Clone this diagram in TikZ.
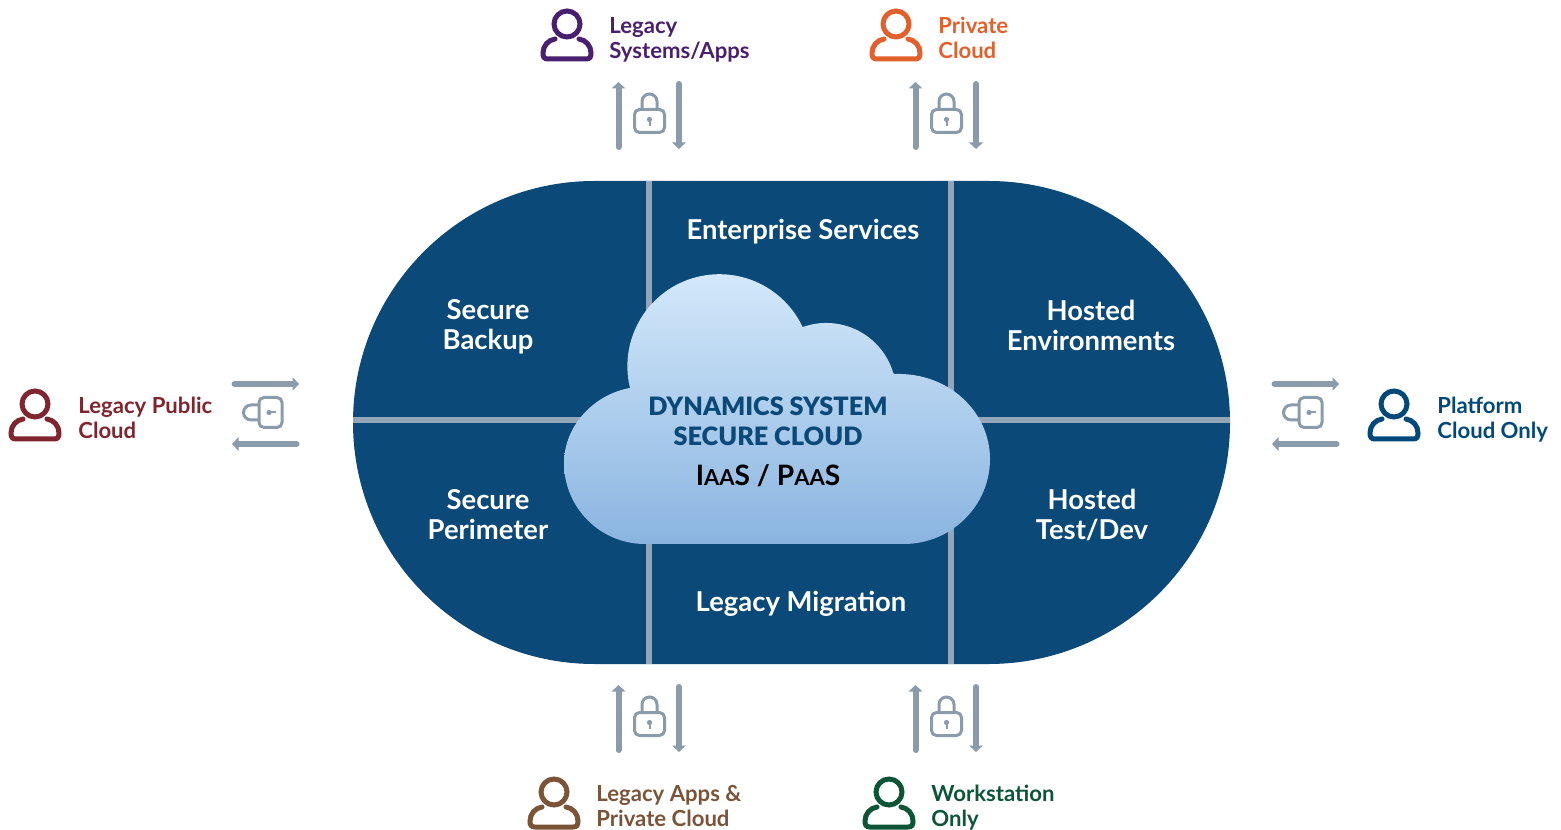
\documentclass[tikz,border=0pt]{standalone}
\usepackage{fontspec}
\setmainfont{Lato}
\newfontfamily\heavyfont{Lato Black}
\usetikzlibrary{arrows.meta}

\definecolor{pillblue}{HTML}{0A4978}
\definecolor{divider}{HTML}{93A6B8}
\definecolor{flowgrey}{HTML}{8A9BAB}
\definecolor{cloudtop}{HTML}{D5EAFB}
\definecolor{cloudbottom}{HTML}{8AB4E0}
\definecolor{legacypurple}{HTML}{4A1F6F}
\definecolor{privateorange}{HTML}{E2602C}
\definecolor{publicred}{HTML}{80252E}
\definecolor{platformblue}{HTML}{00497A}
\definecolor{appsbrown}{HTML}{7B5438}
\definecolor{stationgreen}{HTML}{0D5537}

\tikzset{
  flow/.style={draw=flowgrey,line width=0.12cm,line cap=round,-{Triangle[width=0.27cm,length=0.13cm]}},
  region/.style={text=white,align=center,inner sep=0pt,font=\bfseries\fontsize{15.6}{17}\selectfont},
  user/.style={align=left,anchor=west,inner sep=0pt,font=\bfseries\fontsize{12.6}{14.2}\selectfont},
  person/.pic={
    \draw[line width=0.1cm] (0,0) circle (13);
    \draw[line width=0.1cm,line cap=round]
      (-12,-15) .. controls (-19,-16) and (-24,-22) .. (-24,-29)
      .. controls (-24,-33) and (-23,-35) .. (-19,-35) -- (19,-35)
      .. controls (23,-35) and (24,-33) .. (24,-29)
      .. controls (24,-22) and (19,-16) .. (12,-15);
  },
  lockicon/.pic={
    \draw[flowgrey,line width=0.06cm,rounded corners=0.1cm] (-15,-11.5) rectangle (15,11.5);
    \draw[flowgrey,line width=0.06cm] (-7.5,11.5) -- (-7.5,19.5) arc (180:0:7.5) -- (7.5,11.5);
    \fill[flowgrey] (0,1.5) circle (2.6);
    \draw[flowgrey,line width=0.04cm] (0,1.5) -- (0,-5);
  }
}

\begin{document}
\begin{tikzpicture}[x=0.02cm,y=0.02cm]
  \useasboundingbox (0,0) rectangle (1561,-830);

  % The pill and its dividers
  \fill[pillblue,rounded corners=4.83cm] (353,-181) rectangle (1230,-664);
  \coordinate (D-w) at (353,-420);
  \coordinate (D-e) at (1230,-420);
  \draw[divider,line width=0.12cm] (D-w) -- (D-e);
  \foreach \name / \x in {l/649,r/951} {
      \coordinate (D-\name-t) at (\x,-181);
      \coordinate (D-\name-b) at (\x,-664);
      \draw[divider,line width=0.12cm] (D-\name-t) -- (D-\name-b);
  }

  % The cloud
  \shade[top color=cloudtop,bottom color=cloudbottom]
    (645,-544) arc (270:180:81)
    .. controls (564,-425) and (595,-394) .. (630,-388)
    arc (193.7:25.2:92)
    arc (109.7:16.6:70)
    -- (894,-374) .. controls (950,-372) and (990,-413) .. (990,-459)
    .. controls (990,-506) and (951,-544) .. (904,-544) -- cycle;

  % Regions
  \node[region] (backup) at (488,-327) {Secure\\Backup};
  \node[region] (perimeter) at (488,-515) {Secure\\Perimeter};
  \node[region] (enterprise) at (803,-232) {Enterprise Services};
  \node[region] (migration) at (801,-604) {Legacy Migration};
  \node[region] (hosted) at (1091,-325) {Hosted\\Environments};
  \node[region] (testdev) at (1092,-515) {Hosted\\Test/Dev};

  % Cloud labels
  \node[align=center,text=pillblue,font=\heavyfont\fontsize{14.4}{17}\selectfont] (dynamics) at (768,-421)
    {DYNAMICS SYSTEM\\SECURE CLOUD};
  \node[font=\bfseries\fontsize{16}{17}\selectfont] (service) at (768,-476)
    {I{\fontsize{12.5}{13}\selectfont AA}S / P{\fontsize{12.5}{13}\selectfont AA}S};

  % Users round the pill
  \foreach \name / \x / \y / \col in {ls/567/-24/legacypurple,pc/896/-24/privateorange,
      lp/35/-404/publicred,pf/1394/-404/platformblue,la/554/-792/appsbrown,ws/889/-792/stationgreen}
      \pic[color=\col] (P-\name) at (\x,\y) {person};

  \node[user,text=legacypurple] (ls) at (609,-40) {Legacy\\Systems/Apps};
  \node[user,text=privateorange] (pc) at (938,-38) {Private\\Cloud};
  \node[user,text=publicred] (lp) at (78,-418) {Legacy Public\\Cloud};
  \node[user,text=platformblue] (pf) at (1437,-420) {Platform\\Cloud Only};
  \node[user,text=appsbrown] (la) at (596,-806) {Legacy Apps \&\\Private Cloud};
  \node[user,text=stationgreen] (ws) at (931,-808) {Workstation\\Only};

  % Locks with arrows, above and below
  \foreach \name / \x / \y in {a/649.5/-121,b/946.5/-121,c/649.5/-724,d/946.5/-724} {
      \pic (L-\name) at (\x,\y) {lockicon};
      \coordinate (U-\name-s) at (\x-31,\y-26);
      \coordinate (U-\name-e) at (\x-31,\y+39);
      \coordinate (V-\name-s) at (\x+29.5,\y+37);
      \coordinate (V-\name-e) at (\x+29.5,\y-28);
      \draw[flow] (U-\name-s) -- (U-\name-e);
      \draw[flow] (V-\name-s) -- (V-\name-e);
  }

  % Locks with arrows, left and right
  \foreach \name / \x in {e/270.5,f/1310.5} {
      \pic[rotate=90] (L-\name) at (\x,-412.5) {lockicon};
      \coordinate (U-\name-s) at (\x-36,-384);
      \coordinate (U-\name-e) at (\x+28.5,-384);
      \coordinate (V-\name-s) at (\x+26,-444);
      \coordinate (V-\name-e) at (\x-38.5,-444);
      \draw[flow] (U-\name-s) -- (U-\name-e);
      \draw[flow] (V-\name-s) -- (V-\name-e);
  }
\end{tikzpicture}
\end{document}
